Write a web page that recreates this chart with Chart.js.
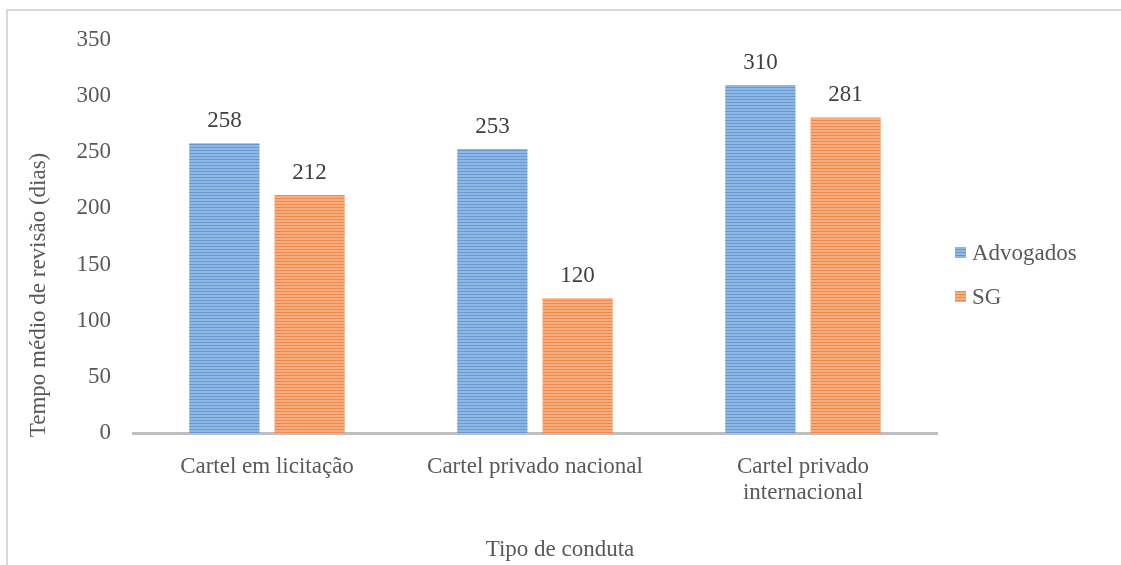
<!DOCTYPE html>
<html>
<head>
<meta charset="utf-8">
<script src="https://cdn.jsdelivr.net/npm/chart.js@4.4.0/dist/chart.umd.min.js"></script>
<style>
    body { margin: 0; background: #fff; overflow: hidden; }
    #frame {
        position: absolute; left: 6px; top: 9px; width: 1130px; height: 580px;
        border-left: 2px solid #d9d9d9; border-top: 2px solid #d9d9d9;
    }
    #myChart { position: absolute; left: 0; top: 0; }
</style>
</head>
<body>
<div id="frame"></div>
<canvas id="myChart" width="1121" height="565"></canvas>
<script>
const categories = [['Cartel em licitação'], ['Cartel privado nacional'], ['Cartel privado', 'internacional']];
const advogadosValues = [258, 253, 310];
const sgValues = [212, 120, 281];
const seriesNames = ['Advogados', 'SG'];
const yTicks = [0, 50, 100, 150, 200, 250, 300, 350];

const fontFamily = '"Liberation Serif", "Times New Roman", serif';
const fontSize = 23;

// Horizontal striped fill used by the bars and legend boxes
function stripes(dark, light) {
    const c = document.createElement('canvas');
    c.width = 4;
    c.height = 3;
    const g = c.getContext('2d');
    g.fillStyle = light;
    g.fillRect(0, 0, 4, 3);
    g.fillStyle = dark;
    g.fillRect(0, 0, 4, 1);
    return g.createPattern(c, 'repeat');
}

const blueFill = stripes('#6699d6', '#8fb7e4');
const orangeFill = stripes('#ef8a4c', '#f6ad7f');

// Value labels above each bar
const valueLabels = {
    id: 'valueLabels',
    afterDatasetsDraw(chart) {
        const ctx = chart.ctx;
        ctx.save();
        ctx.font = `${fontSize}px ${fontFamily}`;
        ctx.fillStyle = '#404040';
        ctx.textAlign = 'center';
        ctx.textBaseline = 'alphabetic';
        chart.data.datasets.forEach((ds, i) => {
            chart.getDatasetMeta(i).data.forEach((bar, j) => {
                ctx.fillText(String(ds.data[j]), bar.x, bar.y - 16);
            });
        });
        ctx.restore();
    }
};

// Axis titles and legend on the right
const extras = {
    id: 'extras',
    afterDraw(chart) {
        const ctx = chart.ctx;
        ctx.save();
        ctx.font = `${fontSize}px ${fontFamily}`;
        ctx.fillStyle = '#595959';
        ctx.textAlign = 'center';
        ctx.textBaseline = 'alphabetic';
        ctx.fillText('Tipo de conduta', 560, 556);

        ctx.save();
        ctx.translate(45, 295);
        ctx.rotate(-Math.PI / 2);
        ctx.fillText('Tempo médio de revisão (dias)', 0, 0);
        ctx.restore();

        ctx.textAlign = 'left';
        const fills = [blueFill, orangeFill];
        const rows = [247, 291];
        seriesNames.forEach((name, i) => {
            ctx.fillStyle = fills[i];
            ctx.fillRect(955, rows[i], 11, 11);
            ctx.fillStyle = '#595959';
            ctx.fillText(name, 972, rows[i] + 13);
        });
        ctx.restore();
    }
};

const ctx = document.getElementById('myChart').getContext('2d');
const chart = new Chart(ctx, {
    type: 'bar',
    data: {
        labels: categories,
        datasets: [
            {
                label: seriesNames[0],
                data: advogadosValues,
                backgroundColor: blueFill,
                borderWidth: 0
            },
            {
                label: seriesNames[1],
                data: sgValues,
                backgroundColor: orangeFill,
                borderWidth: 0
            }
        ]
    },
    options: {
        responsive: false,
        animation: false,
        devicePixelRatio: 1,
        categoryPercentage: 0.636,
        barPercentage: 0.824,
        layout: {
            padding: { top: 40, right: 184, bottom: 0, left: 0 }
        },
        plugins: {
            legend: { display: false },
            tooltip: { enabled: false }
        },
        scales: {
            x: {
                grid: { display: false },
                border: { display: true, color: '#bfbfbf', width: 3 },
                ticks: {
                    color: '#595959',
                    padding: 13,
                    maxRotation: 0,
                    font: { family: fontFamily, size: fontSize, lineHeight: 1.13 }
                },
                afterFit(scale) { scale.height = 132; }
            },
            y: {
                min: 0,
                max: 350,
                afterBuildTicks(scale) { scale.ticks = yTicks.map(v => ({ value: v })); },
                grid: { display: false },
                border: { display: false },
                ticks: {
                    color: '#595959',
                    padding: 14,
                    font: { family: fontFamily, size: fontSize }
                },
                afterFit(scale) { scale.width = 133; }
            }
        }
    },
    plugins: [valueLabels, extras]
});
</script>
</body>
</html>
